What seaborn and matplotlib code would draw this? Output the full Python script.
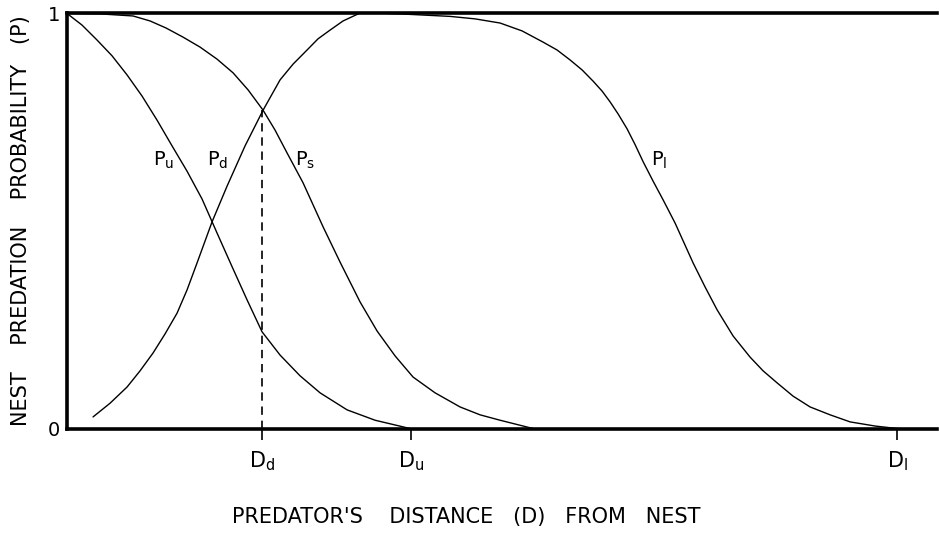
import matplotlib
matplotlib.use("Agg")
import matplotlib.pyplot as plt
import seaborn as sns
import pandas as pd

# ---- data (distance in arbitrary units, probability 0..1) ----
pu_dist = [0, 15, 30, 45, 60, 75, 90, 105, 120, 135, 150, 165, 180, 195, 213, 233, 253, 280, 308, 343]
pu_prob = [1.0, 0.972, 0.936, 0.898, 0.852, 0.801, 0.743, 0.681, 0.620, 0.553, 0.471, 0.390,
           0.310, 0.233, 0.177, 0.127, 0.086, 0.045, 0.020, 0.0]

pd_dist = [26, 43, 60, 73, 86, 98, 110, 120, 130, 145, 160, 178, 196, 213, 226, 240, 251, 263, 276, 292]
pd_prob = [0.028, 0.061, 0.100, 0.139, 0.182, 0.228, 0.278, 0.334, 0.399, 0.498, 0.584, 0.681,
           0.767, 0.840, 0.878, 0.912, 0.939, 0.960, 0.982, 1.0]

ps_dist = [0, 33, 66, 83, 99, 116, 133, 150, 166, 181, 196, 208, 220, 236, 256, 273, 293, 310,
           328, 346, 368, 393, 413, 433, 466]
ps_prob = [1.0, 0.999, 0.994, 0.982, 0.965, 0.943, 0.919, 0.890, 0.857, 0.816, 0.767, 0.719,
           0.664, 0.592, 0.486, 0.401, 0.305, 0.235, 0.175, 0.124, 0.086, 0.052, 0.033, 0.020, 0.0]

pl_dist = [320, 333, 358, 383, 408, 433, 455, 476, 490, 503, 515, 526, 535, 543, 551, 560, 568,
           576, 586, 596, 608, 617, 626, 638, 650, 666, 683, 696, 710, 726, 743, 763, 783, 808, 830]
pl_prob = [1.0, 0.999, 0.996, 0.993, 0.987, 0.977, 0.958, 0.931, 0.912, 0.888, 0.864, 0.837,
           0.813, 0.787, 0.758, 0.722, 0.684, 0.643, 0.596, 0.551, 0.495, 0.447, 0.399, 0.341,
           0.286, 0.223, 0.172, 0.139, 0.110, 0.078, 0.052, 0.033, 0.016, 0.006, 0.0]

curve_names = ["u", "d", "s", "l"]
tick_names = ["d", "u", "l"]
tick_dist = [195, 344, 830]
dd_prob = 0.767          # P_d = P_s at D_d
label_pos = [(97, 0.647), (151, 0.647), (238, 0.647), (592, 0.645)]

# ---- figure ----
sns.set_style("white")
plt.rcParams["font.family"] = ["DejaVu Sans"]
plt.rcParams["mathtext.fontset"] = "custom"
plt.rcParams["mathtext.rm"] = "DejaVu Sans"
for k in ["text.color", "axes.labelcolor", "xtick.color", "ytick.color", "axes.edgecolor"]:
    plt.rcParams[k] = "black"

fig = plt.figure(figsize=(9.39, 5.35), dpi=100)
ax = fig.add_axes([0.0714, 0.199, 0.9266, 0.7758])

frames = [
    pd.DataFrame({"D": pu_dist, "P": pu_prob}),
    pd.DataFrame({"D": pd_dist, "P": pd_prob}),
    pd.DataFrame({"D": ps_dist, "P": ps_prob}),
    pd.DataFrame({"D": pl_dist, "P": pl_prob}),
]
for df in frames:
    sns.lineplot(data=df, x="D", y="P", ax=ax, color="black", linewidth=1.0,
                 sort=False, estimator=None)

# dashed line at D_d
ax.plot([tick_dist[0], tick_dist[0]], [0, dd_prob], color="black",
        linewidth=1.2, linestyle=(0, (5, 3.5)))

# curve labels
for name, (x, y) in zip(curve_names, label_pos):
    ax.text(x, y, r"$\mathregular{P_{%s}}$" % name, fontsize=14,
            ha="center", va="center")

ax.set_xlim(0, 870)
ax.set_ylim(0, 1)

ax.set_xticks(tick_dist)
ax.set_xticklabels([r"$\mathregular{D_{%s}}$" % n for n in tick_names], fontsize=15)
ax.set_yticks([0, 1])
ax.set_yticklabels(["0", "1"], fontsize=14)

ax.tick_params(axis="x", bottom=True, direction="out", length=8, width=1.2, pad=7)
ax.tick_params(axis="y", left=False, length=0, pad=5)

for side in ["left", "bottom", "top"]:
    ax.spines[side].set_visible(True)
    ax.spines[side].set_linewidth(2.6)
ax.spines["right"].set_visible(False)

ax.set_xlabel("PREDATOR'S    DISTANCE   (D)   FROM   NEST", fontsize=15, labelpad=26)
ax.xaxis.set_label_coords(0.459, -0.19)
ax.set_ylabel("NEST    PREDATION    PROBABILITY   (P)", fontsize=15, labelpad=12)

fig.savefig("out.png", dpi=100)
